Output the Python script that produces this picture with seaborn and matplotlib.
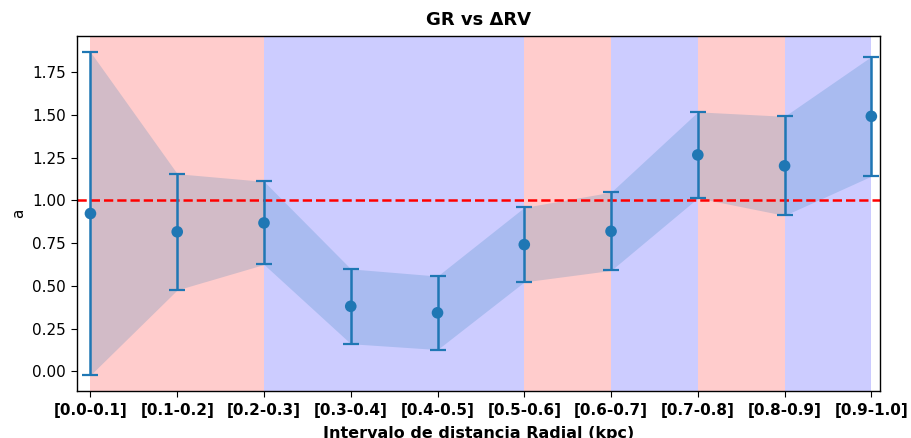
import numpy as np
import pandas as pd
import seaborn as sns
import matplotlib
matplotlib.use("Agg")
import matplotlib.pyplot as plt

# data
labels = ['[0.0-0.1]', '[0.1-0.2]', '[0.2-0.3]', '[0.3-0.4]', '[0.4-0.5]',
          '[0.5-0.6]', '[0.6-0.7]', '[0.7-0.8]', '[0.8-0.9]', '[0.9-1.0]']
a_vals = [0.923, 0.816, 0.868, 0.380, 0.342, 0.741, 0.819, 1.266, 1.202, 1.492]
a_err = [0.945, 0.340, 0.243, 0.219, 0.215, 0.218, 0.229, 0.252, 0.290, 0.350]
span_colors = ['red', 'red', 'blue', 'blue', 'blue', 'red', 'blue', 'red', 'blue']

sns.set_style("ticks")
plt.rcParams['font.family'] = ['DejaVu Sans']
plt.rcParams['text.color'] = 'black'
plt.rcParams['axes.labelcolor'] = 'black'
plt.rcParams['xtick.color'] = 'black'
plt.rcParams['ytick.color'] = 'black'

df = pd.DataFrame({'x': np.arange(len(labels)), 'a': a_vals, 'err': a_err})

fig, ax = plt.subplots(figsize=(9.11, 4.38), dpi=100)
fig.subplots_adjust(left=0.085, right=0.966, top=0.918, bottom=0.107)

# background spans between consecutive bins
for i, c in enumerate(span_colors):
    ax.axvspan(i, i + 1, color=c, alpha=0.2, lw=0, zorder=0)

# shaded band
ax.fill_between(df['x'], df['a'] - df['err'], df['a'] + df['err'],
                color='C0', alpha=0.2, lw=0, zorder=1)

ax.errorbar(df['x'], df['a'], yerr=df['err'], fmt='none', ecolor='C0',
            elinewidth=1.8, capsize=6, capthick=1.6, zorder=3)
sns.scatterplot(data=df, x='x', y='a', color='C0', s=70, edgecolor='none',
                zorder=4, ax=ax)

ax.axhline(1.0, color='red', linestyle='--', lw=1.8, zorder=2)

ax.set_xlim(-0.15, 9.1)
ax.set_xticks(df['x'])
ax.set_xticklabels(labels, fontweight='bold', fontsize=11)
ax.tick_params(axis='both', length=4.5, pad=4)
ax.tick_params(axis='y', labelsize=11)
for s in ax.spines.values():
    s.set_color('black')
    s.set_linewidth(1.0)

ax.set_title('GR vs ΔRV', fontweight='bold', fontsize=13, pad=8)
ax.set_xlabel('Intervalo de distancia Radial (kpc)', fontweight='bold',
              fontsize=11.5, labelpad=6)
ax.set_ylabel('a', fontsize=11)

fig.savefig('out.png', dpi=100)
